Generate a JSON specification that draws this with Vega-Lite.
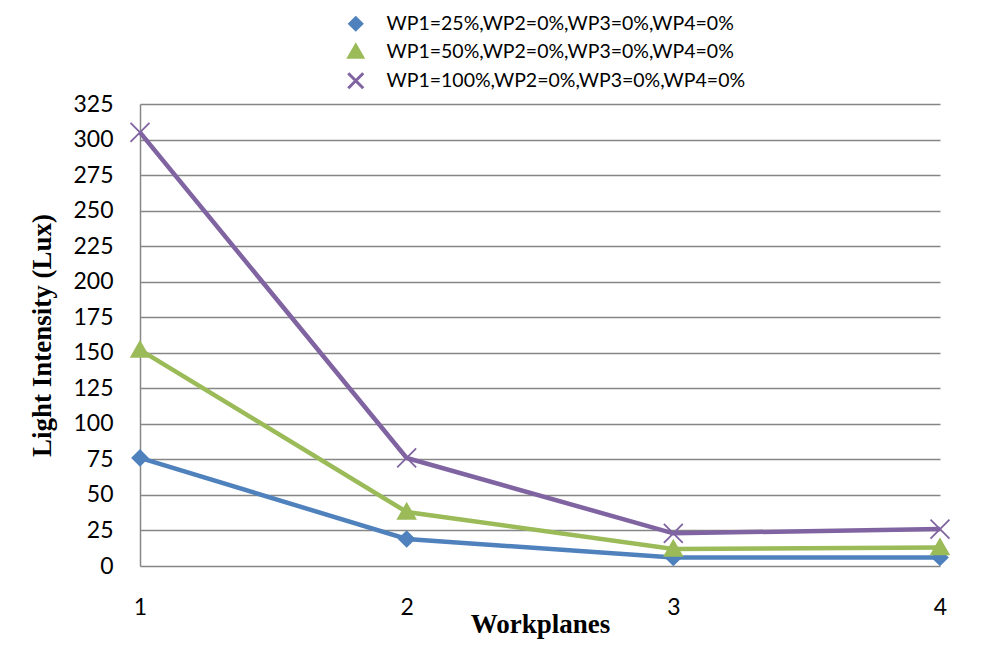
{
  "$schema": "https://vega.github.io/schema/vega-lite/v6.json",
  "width": 800,
  "height": 462,
  "autosize": {"type": "none"},
  "padding": {"left": 140, "top": 104, "right": 60, "bottom": 95},
  "background": "white",
  "data": {
    "values": [
      {"series": "WP1=25%,WP2=0%,WP3=0%,WP4=0%", "workplane": 1, "lux": 76},
      {"series": "WP1=25%,WP2=0%,WP3=0%,WP4=0%", "workplane": 2, "lux": 19},
      {"series": "WP1=25%,WP2=0%,WP3=0%,WP4=0%", "workplane": 3, "lux": 6},
      {"series": "WP1=25%,WP2=0%,WP3=0%,WP4=0%", "workplane": 4, "lux": 6},
      {"series": "WP1=50%,WP2=0%,WP3=0%,WP4=0%", "workplane": 1, "lux": 152},
      {"series": "WP1=50%,WP2=0%,WP3=0%,WP4=0%", "workplane": 2, "lux": 38},
      {"series": "WP1=50%,WP2=0%,WP3=0%,WP4=0%", "workplane": 3, "lux": 12},
      {"series": "WP1=50%,WP2=0%,WP3=0%,WP4=0%", "workplane": 4, "lux": 13},
      {"series": "WP1=100%,WP2=0%,WP3=0%,WP4=0%", "workplane": 1, "lux": 305},
      {"series": "WP1=100%,WP2=0%,WP3=0%,WP4=0%", "workplane": 2, "lux": 76},
      {"series": "WP1=100%,WP2=0%,WP3=0%,WP4=0%", "workplane": 3, "lux": 23},
      {"series": "WP1=100%,WP2=0%,WP3=0%,WP4=0%", "workplane": 4, "lux": 26}
    ]
  },
  "encoding": {
    "x": {
      "field": "workplane", "type": "quantitative",
      "scale": {"domain": [1, 4], "nice": false, "zero": false},
      "axis": {
        "values": [1, 2, 3, 4], "format": "d", "grid": false, "ticks": false,
        "domain": false, "labelFlush": false, "labelPadding": 30, "labelFont": "Lato", "labelFontSize": 23,
        "labelColor": "#000000",
        "title": "Workplanes", "titleFont": "Liberation Serif", "titleFontSize": 27,
        "titleFontWeight": "bold", "titleColor": "#000000", "titlePadding": -8
      }
    },
    "y": {
      "field": "lux", "type": "quantitative",
      "scale": {"domain": [0, 325], "nice": false},
      "axis": {
        "values": [0, 25, 50, 75, 100, 125, 150, 175, 200, 225, 250, 275, 300, 325],
        "grid": true, "gridColor": "#868686", "gridWidth": 1.5, "ticks": false,
        "domain": true, "domainColor": "#868686", "domainWidth": 1.5,
        "labelPadding": 27, "labelFont": "Lato", "labelFontSize": 23, "labelColor": "#000000",
        "title": "Light Intensity (Lux)", "titleFont": "Liberation Serif", "titleFontSize": 27,
        "titleFontWeight": "bold", "titleColor": "#000000", "titlePadding": 16
      }
    }
  },
  "layer": [
    {
      "mark": {"type": "line", "strokeWidth": 4.5},
      "encoding": {
        "color": {
          "field": "series", "type": "nominal",
          "scale": {
            "domain": ["WP1=25%,WP2=0%,WP3=0%,WP4=0%", "WP1=50%,WP2=0%,WP3=0%,WP4=0%", "WP1=100%,WP2=0%,WP3=0%,WP4=0%"],
            "range": ["#4F81BD", "#9BBB59", "#8064A2"]
          },
          "legend": {
            "encoding": {
              "symbols": {
                "update": {
                  "shape": {"signal": "datum.value === 'WP1=25%,WP2=0%,WP3=0%,WP4=0%' ? 'M-4.4,0L4.4,0M0,-1L1,0L0,1L-1,0Z' : (datum.value === 'WP1=50%,WP2=0%,WP3=0%,WP4=0%' ? 'M-4.4,0.3L4.4,0.3M0,-1L1.05,0.9L-1.05,0.9Z' : 'M-4.4,0L4.4,0M-0.8,-0.8L0.8,0.8M-0.8,0.8L0.8,-0.8')"},
                  "strokeWidth": {"value": 3}
                }
              }
            }
          }
        }
      }
    },
    {
      "mark": {"type": "point", "filled": true, "opacity": 1, "strokeWidth": 1.8, "size": 230},
      "encoding": {
        "color": {
          "field": "series", "type": "nominal",
          "scale": {
            "domain": ["WP1=25%,WP2=0%,WP3=0%,WP4=0%", "WP1=50%,WP2=0%,WP3=0%,WP4=0%", "WP1=100%,WP2=0%,WP3=0%,WP4=0%"],
            "range": ["#4F81BD", "#9BBB59", "#8064A2"]
          },
          "legend": {
            "encoding": {
              "symbols": {
                "update": {
                  "shape": {"signal": "datum.value === 'WP1=25%,WP2=0%,WP3=0%,WP4=0%' ? 'M-4.4,0L4.4,0M0,-1L1,0L0,1L-1,0Z' : (datum.value === 'WP1=50%,WP2=0%,WP3=0%,WP4=0%' ? 'M-4.4,0.3L4.4,0.3M0,-1L1.05,0.9L-1.05,0.9Z' : 'M-4.4,0L4.4,0M-0.8,-0.8L0.8,0.8M-0.8,0.8L0.8,-0.8')"},
                  "strokeWidth": {"value": 3}
                }
              }
            }
          }
        },
        "stroke": {
          "field": "series", "type": "nominal",
          "scale": {
            "domain": ["WP1=25%,WP2=0%,WP3=0%,WP4=0%", "WP1=50%,WP2=0%,WP3=0%,WP4=0%", "WP1=100%,WP2=0%,WP3=0%,WP4=0%"],
            "range": ["#4F81BD", "#9BBB59", "#8064A2"]
          },
          "legend": {
            "encoding": {
              "symbols": {
                "update": {
                  "shape": {"signal": "datum.value === 'WP1=25%,WP2=0%,WP3=0%,WP4=0%' ? 'M-4.4,0L4.4,0M0,-1L1,0L0,1L-1,0Z' : (datum.value === 'WP1=50%,WP2=0%,WP3=0%,WP4=0%' ? 'M-4.4,0.3L4.4,0.3M0,-1L1.05,0.9L-1.05,0.9Z' : 'M-4.4,0L4.4,0M-0.8,-0.8L0.8,0.8M-0.8,0.8L0.8,-0.8')"},
                  "strokeWidth": {"value": 3}
                }
              }
            }
          }
        },
        "shape": {
          "field": "series", "type": "nominal",
          "scale": {
            "domain": ["WP1=25%,WP2=0%,WP3=0%,WP4=0%", "WP1=50%,WP2=0%,WP3=0%,WP4=0%", "WP1=100%,WP2=0%,WP3=0%,WP4=0%"],
            "range": ["diamond", "M0,-1.1L1.15,0.9L-1.15,0.9Z", "M-1.25,-1.25L1.25,1.25M-1.25,1.25L1.25,-1.25"]
          },
          "legend": {
            "encoding": {
              "symbols": {
                "update": {
                  "shape": {"signal": "datum.value === 'WP1=25%,WP2=0%,WP3=0%,WP4=0%' ? 'M-4.4,0L4.4,0M0,-1L1,0L0,1L-1,0Z' : (datum.value === 'WP1=50%,WP2=0%,WP3=0%,WP4=0%' ? 'M-4.4,0.3L4.4,0.3M0,-1L1.05,0.9L-1.05,0.9Z' : 'M-4.4,0L4.4,0M-0.8,-0.8L0.8,0.8M-0.8,0.8L0.8,-0.8')"},
                  "strokeWidth": {"value": 3}
                }
              }
            }
          }
        }
      }
    }
  ],
  "config": {
    "view": {"stroke": null},
    "legend": {
      "orient": "none", "legendX": 206, "legendY": -90, "title": null,
      "padding": 0, "labelFont": "Lato", "labelFontSize": 19.5, "labelColor": "#000000",
      "labelOffset": 21, "rowPadding": 3, "symbolSize": 144, "symbolStrokeWidth": 3,
      "labelLimit": 600
    }
  },
  "resolve": {"legend": {"color": "shared", "shape": "shared", "stroke": "shared"}}
}
